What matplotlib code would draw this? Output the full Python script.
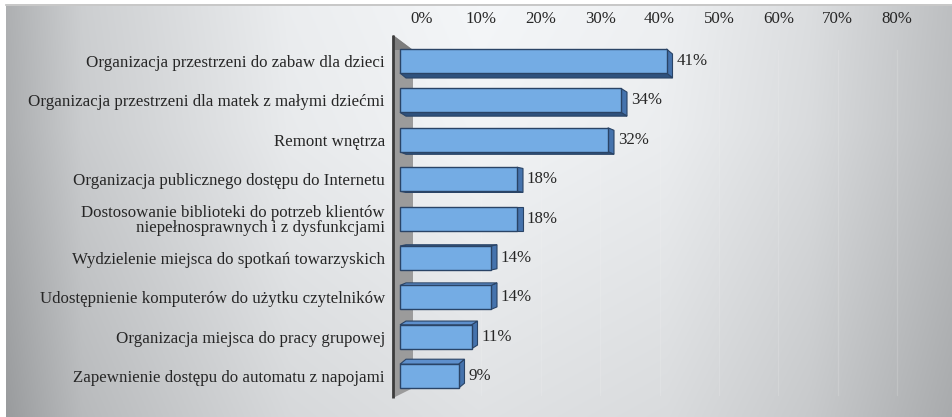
#-----------------------------------------------------------------------
#---- Wykres słupkowy 3D : oczekiwane zmiany w bibliotece
#-----------------------------------------------------------------------

import numpy as np
import matplotlib.pyplot as plt
from matplotlib.patches import Polygon
from matplotlib.lines import Line2D


categories = [
    "Organizacja przestrzeni do zabaw dla dzieci",
    "Organizacja przestrzeni dla matek z małymi dziećmi",
    "Remont wnętrza",
    "Organizacja publicznego dostępu do Internetu",
    "Dostosowanie biblioteki do potrzeb klientów\nniepełnosprawnych i z dysfunkcjami",
    "Wydzielenie miejsca do spotkań towarzyskich",
    "Udostępnienie komputerów do użytku czytelników",
    "Organizacja miejsca do pracy grupowej",
    "Zapewnienie dostępu do automatu z napojami",
]
values = [41, 34, 32, 18, 18, 14, 14, 11, 9]
ticks = [0, 10, 20, 30, 40, 50, 60, 70, 80]
tick_labels = ["0%", "10%", "20%", "30%", "40%", "50%", "60%", "70%", "80%"]

plt.rcParams['font.family'] = ['Liberation Serif', 'DejaVu Serif']
FS = 12.2
TXT = '#262626'

W, H, DPI = 952, 417, 100
fig = plt.figure(figsize=(W / DPI, H / DPI), dpi=DPI, facecolor='white')

#---- Tło z gradientem
bg = fig.add_axes([6 / W, 0, 1 - 6 / W, 1 - 6 / H])
bg.set_axis_off()
xs = np.linspace(0, 1, 500)
ys = np.linspace(0, 1, 220)
lum_x = np.interp(xs, [0, 0.08, 0.3, 0.5, 0.7, 0.85, 1],
                  [0.68, 0.80, 0.92, 0.955, 0.93, 0.86, 0.74])
lum_y = np.interp(ys, [0, 0.3, 1], [0.01, 0.0, -0.07])
lum = lum_x[None, :] + lum_y[:, None]
rgb = np.dstack([lum - 0.008, lum, lum + 0.008]).clip(0, 1)
bg.imshow(rgb, aspect='auto', extent=[0, 1, 0, 1], origin='upper')
fig.add_artist(Line2D([6 / W, 1], [1 - 5 / H, 1 - 5 / H], color='#bdbdbd', lw=1.2))

#---- Osie : 6.5 px na 1 %, 39.4 px między słupkami
PX_X, PX_Y = 6.5, 39.4
X0, Y0 = 400, 61                 # piksel wartości 0 i środka pierwszego słupka
left_px, right_px, top_px, bot_px = 389, 935, 35, 400
ax = fig.add_axes([left_px / W, 1 - bot_px / H, (right_px - left_px) / W, (bot_px - top_px) / H])
ax.set_facecolor('none')
ax.set_xlim((left_px - X0) / PX_X, (right_px - X0) / PX_X)
ax.set_ylim((bot_px - Y0) / PX_Y, (top_px - Y0) / PX_Y)
for s in ax.spines.values():
    s.set_visible(False)
ax.set_xticks([])
ax.set_yticks(range(len(categories)))
ax.set_yticklabels(categories, fontsize=FS, color=TXT, linespacing=0.95, multialignment='right')
ax.tick_params(axis='y', length=0, pad=3)

#---- Skala na tylnej ścianie (przesunięta perspektywą)
BACK_OFF, BACK_STEP = 22, 5.94


def to_back(x):
    return (x * PX_X - BACK_OFF) / BACK_STEP


def from_back(v):
    return (BACK_OFF + BACK_STEP * v) / PX_X


sec = ax.secondary_xaxis('top', functions=(to_back, from_back))
sec.set_xticks(ticks)
sec.set_xticklabels(tick_labels, fontsize=FS, color=TXT)
sec.tick_params(length=0, pad=6)
sec.spines['top'].set_visible(False)

for t in ticks[1:]:
    ax.plot([from_back(t)] * 2, [(50 - Y0) / PX_Y, (395 - Y0) / PX_Y],
            color='#f6f6f6', lw=0.9, alpha=0.18, zorder=0)

#---- Lewa ściana
wl, wr = (393 - X0) / PX_X, (413 - X0) / PX_X
wall = Polygon([(wl, (35 - Y0) / PX_Y), (wr, (50 - Y0) / PX_Y),
                (wr, (388 - Y0) / PX_Y), (wl, (398 - Y0) / PX_Y)],
               closed=True, facecolor='#9b9b9b', edgecolor='none', zorder=1)
ax.add_patch(wall)
ax.add_patch(Polygon([(wl, (35 - Y0) / PX_Y), (wr, (50 - Y0) / PX_Y), (wl, (50 - Y0) / PX_Y)],
                     closed=True, facecolor='#7d7d7d', edgecolor='none', zorder=1))
ax.plot([wl, wl], [(35 - Y0) / PX_Y, (398 - Y0) / PX_Y], color='#3c3c3c', lw=2, zorder=2,
        solid_capstyle='butt')

#---- Słupki 3D
h = 24 / PX_Y
dx = 6 / PX_X
edge = '#2a4466'
n = len(values)
for i, v in enumerate(values):
    y0, y1 = i - h / 2, i + h / 2
    dy = 5 * ((n - 1) / 2 - i) / ((n - 1) / 2) / PX_Y
    # bok prawy
    ax.add_patch(Polygon([(v, y0), (v + dx, y0 + dy), (v + dx, y1 + dy), (v, y1)],
                         closed=True, facecolor='#4573ad', edgecolor=edge, lw=0.8, zorder=3))
    # góra albo spód, zależnie od perspektywy
    if dy > 0:
        ax.add_patch(Polygon([(0, y1), (v, y1), (v + dx, y1 + dy), (dx, y1 + dy)],
                             closed=True, facecolor='#2f527e', edgecolor=edge, lw=0.8, zorder=3))
    elif dy < 0:
        ax.add_patch(Polygon([(0, y0), (v, y0), (v + dx, y0 + dy), (dx, y0 + dy)],
                             closed=True, facecolor='#5d8fcc', edgecolor=edge, lw=0.8, zorder=3))
    # front
    ax.barh(i, v, height=h, left=0, color='#74ace4', edgecolor=edge, lw=1.0, zorder=4)
    ax.text(v + dx + 4 / PX_X, i, f"{v}%", fontsize=FS, color=TXT, va='center', ha='left', zorder=5)

fig.savefig('out.png', dpi=DPI)
